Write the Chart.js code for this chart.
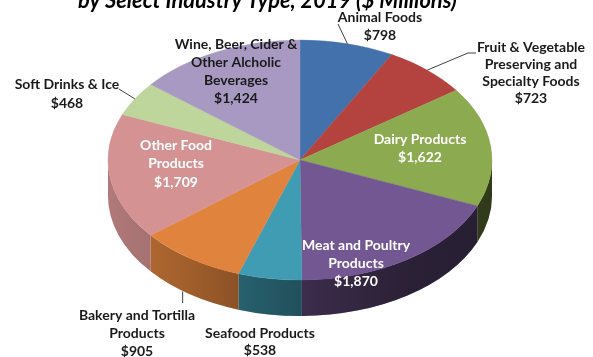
<!DOCTYPE html>
<html>
<head>
<meta charset="utf-8">
<script src="https://cdn.jsdelivr.net/npm/chart.js@4/dist/chart.umd.min.js"></script>
<style>
  html, body { margin: 0; padding: 0; background: #ffffff; }
  #wrap { position: relative; width: 593px; height: 357px; overflow: hidden; }
</style>
</head>
<body>
<div id="wrap"><canvas id="c" width="593" height="357"></canvas></div>
<script>
// Output by industry type, $ millions (clockwise from 12 o'clock)
const categories = [
  'Animal Foods',
  'Fruit & Vegetable Preserving and Specialty Foods',
  'Dairy Products',
  'Meat and Poultry Products',
  'Seafood Products',
  'Bakery and Tortilla Products',
  'Other Food Products',
  'Soft Drinks & Ice',
  'Wine, Beer, Cider & Other Alcholic Beverages'
];
const values = [798, 723, 1622, 1870, 538, 905, 1709, 468, 1424];
const labelLines = [
  ['Animal Foods'],
  ['Fruit & Vegetable', 'Preserving and', 'Specialty Foods'],
  ['Dairy Products'],
  ['Meat and Poultry', 'Products'],
  ['Seafood Products'],
  ['Bakery and Tortilla', 'Products'],
  ['Other Food', 'Products'],
  ['Soft Drinks & Ice'],
  ['Wine, Beer, Cider &', 'Other Alcholic', 'Beverages']
];
const titleText = 'by Select Industry Type, 2019 ($ Millions)';

const sliceColors = ['#4271AC', '#B4423F', '#8CAA4F', '#735792', '#409CB2', '#E0843D', '#D59292', '#BED59B', '#A899C2'];

// label placement: first-line centre, line gap, text colour, optional leader
const labelLayout = [
  { x: 380, y: 17, gap: 18, color: '#1a1a1a', leader: [[338, 24]] },
  { x: 531, y: 47, gap: 17, color: '#1a1a1a', leader: [[476, 53], [468, 53]] },
  { x: 420, y: 139, gap: 18, color: '#ffffff' },
  { x: 356, y: 245, gap: 18, color: '#ffffff' },
  { x: 260, y: 333, gap: 17.5, color: '#1a1a1a' },
  { x: 137, y: 315, gap: 18, color: '#1a1a1a', drop: 303 },
  { x: 176, y: 145, gap: 18.5, color: '#ffffff' },
  { x: 67, y: 84, gap: 19, color: '#1a1a1a', leader: [[119, 89]] },
  { x: 236, y: 44, gap: 18, color: '#1a1a1a' }
];

const TILT = 0.625;   // vertical squash of the pie top
const DEPTH = 36;     // thickness of the pie wall

const tiltPlugin = {
  id: 'tilt3d',
  beforeDatasetsDraw(chart) {
    const ctx = chart.ctx;
    const meta = chart.getDatasetMeta(0);
    const { x: cx, y: cy, outerRadius: R } = meta.data[0];
    // shading across the wall: lighter on the left, dark on the right
    const grad = ctx.createLinearGradient(cx - R, 0, cx + R, 0);
    grad.addColorStop(0, 'rgba(0,0,0,0.17)');
    grad.addColorStop(0.19, 'rgba(0,0,0,0.27)');
    grad.addColorStop(0.42, 'rgba(0,0,0,0.44)');
    grad.addColorStop(0.76, 'rgba(0,0,0,0.62)');
    grad.addColorStop(1, 'rgba(0,0,0,0.66)');
    meta.data.forEach((arc, i) => {
      const a1 = Math.max(arc.startAngle, 0);
      const a2 = Math.min(arc.endAngle, Math.PI);
      if (a2 <= a1) return;
      ctx.beginPath();
      ctx.ellipse(cx, cy, R, R * TILT, 0, a1, a2, false);
      ctx.ellipse(cx, cy + DEPTH, R, R * TILT, 0, a2, a1, true);
      ctx.closePath();
      ctx.fillStyle = sliceColors[i];
      ctx.fill();
      ctx.fillStyle = grad;
      ctx.fill();
    });
    ctx.save();
    ctx.translate(cx, cy);
    ctx.scale(1, TILT);
    ctx.translate(-cx, -cy);
  },
  afterDatasetsDraw(chart) {
    chart.ctx.restore();
  }
};

const labelPlugin = {
  id: 'sliceLabels',
  afterDraw(chart) {
    const ctx = chart.ctx;
    const meta = chart.getDatasetMeta(0);
    ctx.save();
    // title line (the top of it runs off the canvas edge)
    ctx.font = 'italic bold 20px Lato';
    const w = ctx.measureText(titleText).width;
    const size = 20 * 379 / w;
    ctx.font = 'italic bold ' + size.toFixed(2) + 'px Lato';
    ctx.fillStyle = '#000000';
    ctx.textAlign = 'left';
    ctx.textBaseline = 'alphabetic';
    ctx.fillText(titleText, 78, 8);

    // leader lines
    ctx.strokeStyle = '#404040';
    ctx.lineWidth = 1;
    meta.data.forEach((arc, i) => {
      const lay = labelLayout[i];
      const mid = (arc.startAngle + arc.endAngle) / 2;
      const rx = arc.x + arc.outerRadius * Math.cos(mid);
      const ry = arc.y + arc.outerRadius * TILT * Math.sin(mid);
      if (lay.leader) {
        ctx.beginPath();
        lay.leader.forEach((p, k) => k ? ctx.lineTo(p[0], p[1]) : ctx.moveTo(p[0], p[1]));
        ctx.lineTo(rx, ry);
        ctx.stroke();
      }
      if (lay.drop) {
        ctx.beginPath();
        ctx.moveTo(rx - 7.5, ry + DEPTH - 3);
        ctx.lineTo(rx - 7.5, lay.drop);
        ctx.stroke();
      }
    });
    // slice texts
    ctx.font = 'bold 14px Lato';
    ctx.textAlign = 'center';
    ctx.textBaseline = 'middle';
    values.forEach((v, i) => {
      const lay = labelLayout[i];
      const lines = labelLines[i].concat('$' + v.toLocaleString('en-US'));
      ctx.fillStyle = lay.color;
      lines.forEach((t, k) => ctx.fillText(t, lay.x, lay.y + k * lay.gap));
    });
    ctx.restore();
  }
};

new Chart(document.getElementById('c'), {
  type: 'pie',
  data: {
    labels: categories,
    datasets: [{
      data: values,
      backgroundColor: sliceColors,
      borderColor: sliceColors,
      borderWidth: 0.5,
      radius: 192,
      clip: false
    }]
  },
  options: {
    responsive: false,
    animation: false,
    events: [],
    layout: { padding: { left: 7, right: 0, top: 0, bottom: 37 } },
    plugins: {
      legend: { display: false },
      tooltip: { enabled: false },
      title: { display: false }
    }
  },
  plugins: [tiltPlugin, labelPlugin]
});
</script>
</body>
</html>
